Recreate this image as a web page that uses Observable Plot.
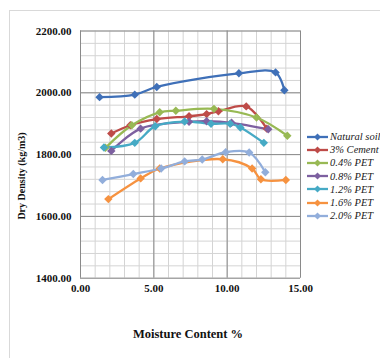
<!DOCTYPE html>
<html><head><meta charset="utf-8">
<script src="https://cdn.jsdelivr.net/npm/d3@7"></script>
<script src="https://cdn.jsdelivr.net/npm/@observablehq/plot@0.6"></script>
<style>
body{margin:0;background:#fff;}
#wrap{position:relative;width:380px;height:358px;overflow:hidden;background:#fff;}
#frame{position:absolute;left:9px;top:10px;width:420px;height:420px;border:1px solid #d9d9d9;}
#chart{position:absolute;left:0;top:0;}
#chart svg [aria-label$="tick label"]{font-weight:bold;}
#legend{position:absolute;left:307px;top:130px;font:italic 10.5px "Liberation Serif",serif;color:#222;}
.item{height:13.2px;display:flex;align-items:center;white-space:nowrap;}
.item svg{margin-right:2px;}
#xtitle{position:absolute;left:78px;width:220px;top:327px;text-align:center;font:bold 12.5px "Liberation Serif",serif;color:#111;}
#ytitle{position:absolute;left:21px;top:176px;transform:translate(-50%,-50%) rotate(-90deg);white-space:nowrap;font:bold 10px "Liberation Serif",serif;color:#111;}
</style></head><body>
<div id="wrap"><div id="frame"></div><div id="chart"></div><div id="legend"></div>
<div id="xtitle">Moisture Content %</div><div id="ytitle">Dry Density (kg/m3)</div></div>
<script>
const seriesNames = ["Natural soil","3% Cement","0.4% PET","0.8% PET","1.2% PET","1.6% PET","2.0% PET"];
const seriesColors = ["#3f70b8","#be4b48","#98b954","#7d60a0","#46aac5","#f69240","#92aedb"];
const xTicks = [0,5,10,15];
const yTicks = [1400,1600,1800,2000,2200];

const naturalX = [1.3,3.7,5.2,10.8,13.3,13.9];
const naturalY = [1986,1994,2019,2063,2066,2008];
const cementX = [2.1,3.4,5.2,7.4,8.6,9.4,11.3,12.7];
const cementY = [1868,1895,1915,1924,1931,1940,1956,1884];
const pet04X = [1.7,3.5,5.4,6.5,9.1,12.0,14.1];
const pet04Y = [1822,1895,1937,1942,1948,1920,1861];
const pet08X = [2.1,4.1,7.4,8.6,10.3,12.8];
const pet08Y = [1812,1884,1906,1908,1903,1882];
const pet12X = [1.6,3.7,5.1,7.1,8.9,10.2,10.9,12.5];
const pet12Y = [1823,1838,1892,1907,1900,1900,1888,1838];
const pet16X = [1.9,4.1,5.4,9.7,11.7,12.3,14.0];
const pet16Y = [1656,1723,1755,1785,1755,1720,1718];
const pet20X = [1.5,3.6,5.5,7.1,8.3,9.9,11.5,12.6];
const pet20Y = [1718,1737,1755,1778,1784,1808,1807,1743];

const allX = [naturalX,cementX,pet04X,pet08X,pet12X,pet16X,pet20X];
const allY = [naturalY,cementY,pet04Y,pet08Y,pet12Y,pet16Y,pet20Y];
const rows = [];
seriesNames.forEach((s,i)=>allX[i].forEach((x,j)=>rows.push({series:s,x,y:allY[i][j]})));

const chart = Plot.plot({
  width:380, height:358,
  marginLeft:80, marginRight:80, marginTop:30.5, marginBottom:80.3,
  style:{background:"transparent", fontFamily:"Liberation Serif", fontSize:"11px", color:"#111"},
  x:{domain:[0,15]},
  y:{domain:[1400,2200]},
  color:{domain:seriesNames, range:seriesColors},
  marks:[
    Plot.ruleX(d3.range(0,16,1), {stroke:"#d4d4d4", strokeWidth:1}),
    Plot.ruleY(d3.range(1400,2201,40), {stroke:"#d4d4d4", strokeWidth:1}),
    Plot.ruleX(xTicks, {stroke:"#8a8a8a", strokeWidth:1}),
    Plot.ruleY(yTicks, {stroke:"#8a8a8a", strokeWidth:1}),
    Plot.axisX(xTicks, {tickSize:0, tickPadding:6, tickFormat:d=>d.toFixed(2), label:null}),
    Plot.axisY(yTicks, {tickSize:0, tickPadding:9, tickFormat:d=>d.toFixed(2), label:null}),
    Plot.line(rows, {x:"x", y:"y", z:"series", stroke:"series", curve:"catmull-rom", strokeWidth:2.3}),
    Plot.dot(rows, {x:"x", y:"y", fill:"series", symbol:"diamond2", r:3.8, stroke:"none"})
  ]
});
document.getElementById("chart").appendChild(chart);

const legend = document.getElementById("legend");
seriesNames.forEach((s,i)=>{
  const d = document.createElement("div");
  d.className = "item";
  d.innerHTML = `<svg width="21" height="8"><line x1="0" x2="21" y1="4" y2="4" stroke="${seriesColors[i]}" stroke-width="2.3"/><path d="M10.5,0.5L14,4L10.5,7.5L7,4Z" fill="${seriesColors[i]}"/></svg><span>${s}</span>`;
  legend.appendChild(d);
});
</script>
</body></html>
